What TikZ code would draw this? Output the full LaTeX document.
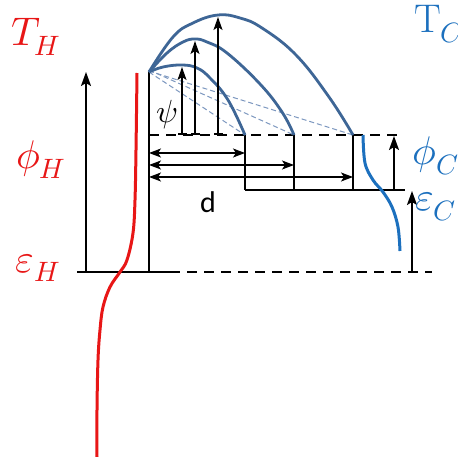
\documentclass[tikz,border=0pt]{standalone}
\usepackage{fontspec}
\usepackage{unicode-math}
\setmathfont{Latin Modern Math}
\newfontfamily\carl{Carlito}
\usetikzlibrary{arrows.meta}
\definecolor{hred}{RGB}{232,22,22}
\definecolor{cblue}{RGB}{28,112,190}
\definecolor{dblue}{RGB}{62,102,150}
\definecolor{lblue}{RGB}{125,152,192}
\tikzset{
  thickline/.style={line width=2.6pt, black},
  dashline/.style={line width=2.6pt, black, dash pattern=on 10pt off 7pt},
  bigarrow/.style={line width=2pt, -{Stealth[length=14pt,width=10pt,inset=3pt]}},
  dimarrow/.style={line width=1.4pt, {Stealth[length=12pt,width=9pt,inset=3pt]}-{Stealth[length=12pt,width=9pt,inset=3pt]}},
  psiarrow/.style={line width=1.5pt, {Bar[width=9pt]}-{Stealth[length=13pt,width=9pt,inset=3pt]}},
  bandcurve/.style={line width=2.8pt, dblue},
  thindash/.style={line width=1pt, lblue, dash pattern=on 5pt off 3pt},
  hlabel/.style={text=hred, inner sep=0pt, font=\fontsize{40}{40}\selectfont},
  clabel/.style={text=cblue, inner sep=0pt, anchor=west, font=\fontsize{40}{40}\selectfont}
}
\begin{document}
\begin{tikzpicture}[x=1pt,y=-1pt]
\useasboundingbox (0,0) rectangle (458,457);
\fill[white] (0,0) rectangle (458,457);
% key coordinates
\coordinate (eHl) at (77,272);
\coordinate (eHr) at (170,272);
\coordinate (eHend) at (432,272);
\coordinate (arrB) at (86,272);
\coordinate (arrT) at (86,72);
\coordinate (barB) at (149,272);
\coordinate (A) at (149,72);
\coordinate (phiL) at (149,135);
\coordinate (phiR) at (404,135);
\coordinate (E1) at (245,135);
\coordinate (E2) at (294,135);
\coordinate (E3) at (353,135);
\coordinate (B1) at (245,190);
\coordinate (B2) at (294,190);
\coordinate (B3) at (353,190);
\coordinate (Bend) at (405,190);
\coordinate (pcB) at (394,190);
\coordinate (pcT) at (394,136);
\coordinate (ecB) at (412,273);
\coordinate (ecT) at (412,191);
% horizontal levels
\draw[thickline] (eHl) -- (eHr);
\draw[dashline] (eHr) -- (eHend);
\draw[dashline] (phiL) -- (phiR);
\draw[thickline] (B1) -- (Bend);
% verticals
\draw[thickline] (barB) -- (A);
\draw[thickline] (E1) -- (B1);
\draw[thickline] (E2) -- (B2);
\draw[thickline] (E3) -- (B3);
\draw[bigarrow] (arrB) -- (arrT);
\draw[bigarrow] (pcB) -- (pcT);
\draw[bigarrow] (ecB) -- (ecT);
% dimension arrows
\coordinate (d1l) at (149,153); \coordinate (d1r) at (245,153);
\coordinate (d2l) at (149,165); \coordinate (d2r) at (294,165);
\coordinate (d3l) at (149,177); \coordinate (d3r) at (353,177);
\draw[dimarrow] (d1l) -- (d1r);
\draw[dimarrow] (d2l) -- (d2r);
\draw[dimarrow] (d3l) -- (d3r);
% thin dashed lines
\draw[thindash] (A) -- (E1);
\draw[thindash] ([yshift=2pt]A) -- (E2);
\draw[thindash] ([yshift=1pt]A) -- (E3);
% band curves
\draw[bandcurve] plot[smooth, tension=0.7] coordinates {(149,72) (163,67) (182,65) (197,68) (210,78) (228,100) (245,135)};
\draw[bandcurve] plot[smooth, tension=0.7] coordinates {(149,72) (167,53) (183,42) (195,39) (207,42) (227,53) (260,84) (282,112) (294,135)};
\draw[bandcurve] plot[smooth, tension=0.7] coordinates {(149,72) (173,37) (193,23) (218,15) (240,18) (262,28) (296,55) (329,97) (353,135)};
% psi arrows
\coordinate (p1b) at (182,135); \coordinate (p1t) at (182,67);
\coordinate (p2b) at (195,135); \coordinate (p2t) at (195,41);
\coordinate (p3b) at (218,135); \coordinate (p3t) at (218,17);
\draw[psiarrow] (p1b) -- (p1t);
\draw[psiarrow] (p2b) -- (p2t);
\draw[psiarrow] (p3b) -- (p3t);
% red curve
\draw[hred, line width=3pt] plot[smooth, tension=0.6] coordinates {(137,73) (136,150) (135,200) (133,233) (127,260) (120,272) (110,287) (103,307) (100,330) (98,360) (97,410) (97,457)};
% light blue curve
\draw[cblue, line width=3pt] plot[smooth, tension=0.6] coordinates {(363,135) (365,163) (373,180) (383,192) (392,207) (398,227) (400,251)};
% labels
\node[hlabel] (TH) at (36,37) {$T_H$};
\node[hlabel] (PH) at (41,160) {$\phi_H$};
\node[hlabel] (EH) at (38,268) {$\varepsilon_H$};
\node[clabel] (TC) at (414,24) {$\mathrm{T}_C$};
\node[clabel] (PC) at (412,156) {$\phi_C$};
\node[clabel] (EC) at (415,207) {$\varepsilon_C$};
\node[inner sep=0pt, font=\fontsize{32}{32}\selectfont] (psi) at (167,115) {$\psi$};
\node[inner sep=0pt, font=\carl\fontsize{30}{30}\selectfont] (dl) at (208,202) {d};
\end{tikzpicture}
\end{document}
